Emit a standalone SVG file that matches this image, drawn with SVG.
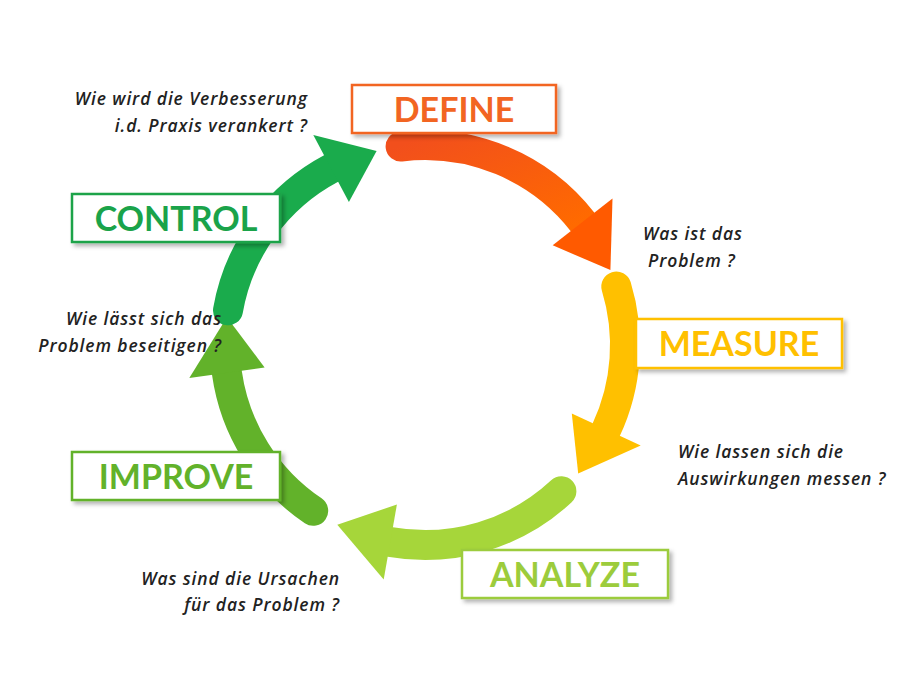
<svg xmlns="http://www.w3.org/2000/svg" width="900" height="700" viewBox="0 0 900 700">
<defs>
<filter id="sh" x="-10%" y="-10%" width="130%" height="140%"><feDropShadow dx="3" dy="3" stdDeviation="2" flood-color="#000" flood-opacity="0.3"/></filter>
<linearGradient id="gD" x1="0" y1="0" x2="1" y2="1"><stop offset="0" stop-color="#f24f1c"/><stop offset="1" stop-color="#ff6a00"/></linearGradient>
</defs>
<style>
.box{fill:#fff;stroke-width:2.5;filter:url(#sh)}
.lbl{font-family:Lato,"Open Sans",sans-serif;font-weight:bold;font-size:34px;text-anchor:middle}
.q{font-family:"Open Sans",sans-serif;font-style:italic;font-weight:600;font-size:17.5px;letter-spacing:0.9px;fill:#222}
.arc{fill:none;stroke-width:30;stroke-linecap:round}
</style>
<rect width="900" height="700" fill="#fff"/>
<g id="connectors">
<path class="arc" stroke="url(#gD)" d="M400.6,146.5 A200,200 0 0 1 582.6,221.9"/>
<polygon fill="#ff5a00" points="552.7,245.3 612.5,198.5 610.4,270.1"/>
<path class="arc" stroke="#ffc000" d="M616.3,286.5 A200,200 0 0 1 606.3,429.5"/>
<polygon fill="#ffc000" points="571.8,413.5 640.7,445.6 578.2,473.6"/>
<path class="arc" stroke="#a6d63a" d="M561.4,491.3 A200,200 0 0 1 390.3,542"/>
<polygon fill="#a6d63a" points="396.9,504.5 383.7,579.4 337.3,524.8"/>
<path class="arc" stroke="#62b22a" d="M313.2,510.8 A200,200 0 0 1 226.9,372.8"/>
<polygon fill="#62b22a" points="264.6,367.5 189.3,378.1 226.9,317.2"/>
<path class="arc" stroke="#1aab4c" d="M228,310.3 A200,200 0 0 1 331.1,168.4"/>
<polygon fill="#1aab4c" points="348.9,202 313.3,134.9 376.6,151"/>
</g>
<g id="define"><rect class="box" x="352" y="85" width="204" height="48" stroke="#f26522"/><text class="lbl" x="454" y="122" fill="#f26522">DEFINE</text></g>
<g id="measure"><rect class="box" x="636" y="319" width="206" height="49" stroke="#ffc000"/><text class="lbl" x="739" y="356" fill="#ffc000">MEASURE</text></g>
<g id="analyze"><rect class="box" x="462" y="550" width="206" height="48" stroke="#9ccc3c"/><text class="lbl" x="565" y="587" fill="#9ccc3c">ANALYZE</text></g>
<g id="improve"><rect class="box" x="72" y="452" width="208" height="48" stroke="#62b22a"/><text class="lbl" x="176" y="489" fill="#62b22a">IMPROVE</text></g>
<g id="control"><rect class="box" x="72" y="194" width="208" height="48" stroke="#1aa34a"/><text class="lbl" x="176" y="231" fill="#1aa34a">CONTROL</text></g>
<g id="questions">
<text class="q" x="308" y="105" text-anchor="end">Wie wird die Verbesserung</text>
<text class="q" x="308" y="132" text-anchor="end">i.d. Praxis verankert ?</text>
<text class="q" x="643" y="240">Was ist das</text>
<text class="q" x="648" y="267">Problem ?</text>
<text class="q" x="678" y="458">Wie lassen sich die</text>
<text class="q" x="678" y="485">Auswirkungen messen ?</text>
<text class="q" x="340" y="585" text-anchor="end">Was sind die Ursachen</text>
<text class="q" x="340" y="611" text-anchor="end">für das Problem ?</text>
<text class="q" x="222" y="325" text-anchor="end">Wie lässt sich das</text>
<text class="q" x="222" y="352" text-anchor="end">Problem beseitigen ?</text>
</g>
</svg>
